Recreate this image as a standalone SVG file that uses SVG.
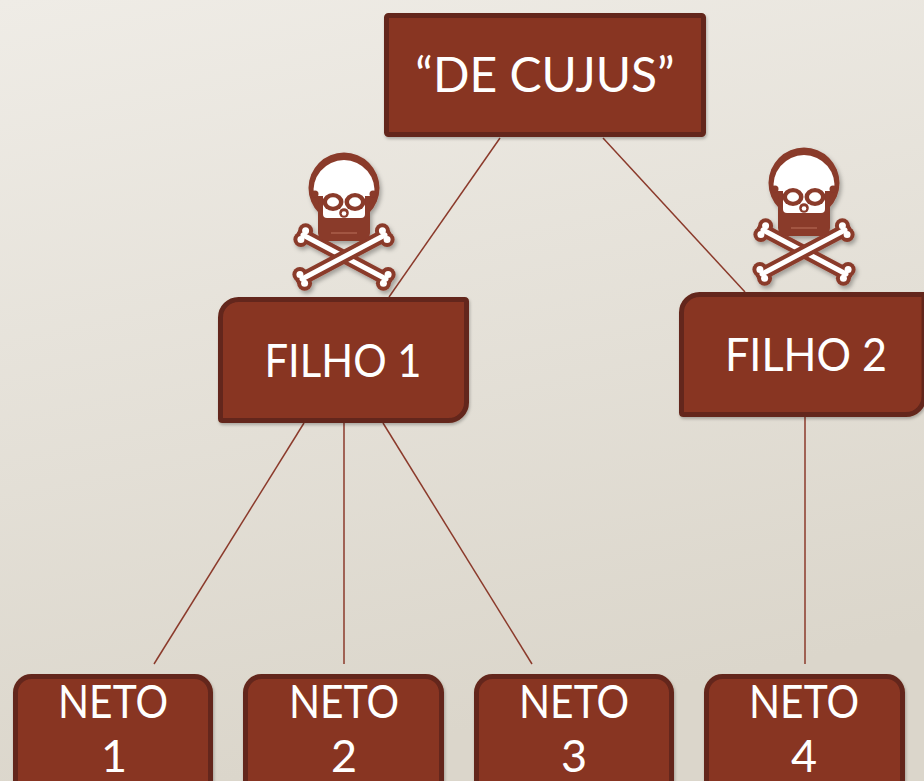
<svg xmlns="http://www.w3.org/2000/svg" xmlns:xlink="http://www.w3.org/1999/xlink" width="924" height="781" viewBox="0 0 924 781">
<defs>
<linearGradient id="bg" x1="0" y1="0" x2="0.25" y2="1">
<stop offset="0" stop-color="#efece6"/>
<stop offset="1" stop-color="#dbd6cb"/>
</linearGradient>
<filter id="sh" x="-20%" y="-20%" width="140%" height="140%">
<feDropShadow dx="2" dy="3" stdDeviation="2" flood-color="#000" flood-opacity="0.3"/>
</filter>
<filter id="bsh" x="-10%" y="-10%" width="120%" height="130%">
<feDropShadow dx="1" dy="2" stdDeviation="1.5" flood-color="#000" flood-opacity="0.25"/>
</filter>
<style>
.box{fill:#883524;stroke:#64271a;stroke-width:5;filter:url(#bsh)}
.t{fill:#ffffff;font-family:Lato,"Open Sans",sans-serif;text-anchor:middle}
.con{stroke:#8b3a2b;stroke-width:1.5;fill:none}
.br{fill:#8a3a2a}
.bw{fill:#ffffff}
.bl{stroke:#8a3a2a;stroke-width:13;stroke-linecap:round}
.wl{stroke:#ffffff;stroke-width:5;stroke-linecap:round}
</style>
<g id="skull">
<g>
<line class="bl" x1="305" y1="235" x2="388" y2="279"/>
<circle class="br" cx="302.9" cy="239.5" r="7.5"/><circle class="br" cx="307.6" cy="230.7" r="7.5"/>
<circle class="br" cx="385.4" cy="283.3" r="7.5"/><circle class="br" cx="390.1" cy="274.5" r="7.5"/>
<line class="wl" x1="305" y1="235" x2="388" y2="279"/>
<circle class="bw" cx="302.9" cy="239.5" r="3.5"/><circle class="bw" cx="307.6" cy="230.7" r="3.5"/>
<circle class="bw" cx="385.4" cy="283.3" r="3.5"/><circle class="bw" cx="390.1" cy="274.5" r="3.5"/>
</g>
<g>
<line class="bl" x1="387" y1="235" x2="304" y2="279"/>
<circle class="br" cx="389.1" cy="239.5" r="7.5"/><circle class="br" cx="384.4" cy="230.7" r="7.5"/>
<circle class="br" cx="306.6" cy="283.3" r="7.5"/><circle class="br" cx="301.9" cy="274.5" r="7.5"/>
<line class="wl" x1="387" y1="235" x2="304" y2="279"/>
<circle class="bw" cx="389.1" cy="239.5" r="3.5"/><circle class="bw" cx="384.4" cy="230.7" r="3.5"/>
<circle class="bw" cx="306.6" cy="283.3" r="3.5"/><circle class="bw" cx="301.9" cy="274.5" r="3.5"/>
</g>
<circle class="br" cx="346" cy="188" r="35.5"/>
<rect class="br" x="320" y="196" width="52" height="45" rx="8"/>
<path class="bw" d="M316 196 A30.5 30.5 0 1 1 376 196 Z"/>
<rect class="bw" x="325" y="192" width="42" height="26" rx="4"/>
<circle class="br" cx="317" cy="194" r="3.5"/>
<circle class="br" cx="375" cy="194" r="3.5"/>
<ellipse class="br" cx="335" cy="202" rx="10.5" ry="9"/>
<ellipse class="br" cx="357" cy="202" rx="10.5" ry="9"/>
<ellipse class="bw" cx="335" cy="202" rx="6" ry="4.7"/>
<ellipse class="bw" cx="357" cy="202" rx="6" ry="4.7"/>
<circle class="br" cx="346" cy="213" r="4.8"/>
<circle class="bw" cx="346" cy="213.5" r="2.3"/>
<line x1="333" y1="233" x2="359" y2="233" stroke="#b26656" stroke-width="1.2"/>
</g>
</defs>
<rect x="0" y="0" width="924" height="781" fill="url(#bg)"/>
<g id="connectors">
<line class="con" x1="500" y1="138" x2="389" y2="297"/>
<line class="con" x1="603" y1="138" x2="745" y2="292"/>
<line class="con" x1="304" y1="423" x2="154" y2="664"/>
<line class="con" x1="344" y1="423" x2="344" y2="664"/>
<line class="con" x1="383" y1="423" x2="532" y2="664"/>
<line class="con" x1="805" y1="417" x2="805" y2="664"/>
</g>
<g id="skull1" filter="url(#sh)"><use xlink:href="#skull" transform="translate(-2,0)"/></g>
<g id="skull2" filter="url(#sh)"><use xlink:href="#skull" transform="translate(458,-5)"/></g>
<g id="decujus">
<rect class="box" x="386.5" y="15.5" width="317" height="119" rx="2"/>
<text class="t" x="545" y="92" font-size="48">“DE CUJUS”</text>
</g>
<g id="filho1">
<path class="box" d="M238.5 299.5 L464.5 299.5 Q466.5 299.5 466.5 301.5 L466.5 402.5 A18 18 0 0 1 448.5 420.5 L222.5 420.5 Q220.5 420.5 220.5 418.5 L220.5 317.5 A18 18 0 0 1 238.5 299.5 Z"/>
<text class="t" x="343" y="377" font-size="47" textLength="157" lengthAdjust="spacingAndGlyphs">FILHO 1</text>
</g>
<g id="filho2">
<path class="box" d="M699.5 294.5 L924 294.5 L924 396.5 A18 18 0 0 1 906 414.5 L683.5 414.5 Q681.5 414.5 681.5 412.5 L681.5 312.5 A18 18 0 0 1 699.5 294.5 Z"/>
<text class="t" x="806" y="371" font-size="47" textLength="162" lengthAdjust="spacingAndGlyphs">FILHO 2</text>
</g>
<g id="neto1">
<rect class="box" x="15.5" y="676.5" width="195" height="130" rx="16"/>
<text class="t" x="113" y="718" font-size="46" textLength="110" lengthAdjust="spacingAndGlyphs">NETO</text>
<text class="t" x="114" y="772" font-size="45">1</text>
</g>
<g id="neto2">
<rect class="box" x="245.5" y="676.5" width="196" height="130" rx="16"/>
<text class="t" x="344" y="718" font-size="46" textLength="110" lengthAdjust="spacingAndGlyphs">NETO</text>
<text class="t" x="344" y="772" font-size="45">2</text>
</g>
<g id="neto3">
<rect class="box" x="476.5" y="676.5" width="195" height="130" rx="16"/>
<text class="t" x="574" y="718" font-size="46" textLength="110" lengthAdjust="spacingAndGlyphs">NETO</text>
<text class="t" x="574" y="772" font-size="45">3</text>
</g>
<g id="neto4">
<rect class="box" x="706.5" y="676.5" width="196" height="130" rx="16"/>
<text class="t" x="804" y="718" font-size="46" textLength="110" lengthAdjust="spacingAndGlyphs">NETO</text>
<text class="t" x="804" y="772" font-size="45">4</text>
</g>
</svg>
